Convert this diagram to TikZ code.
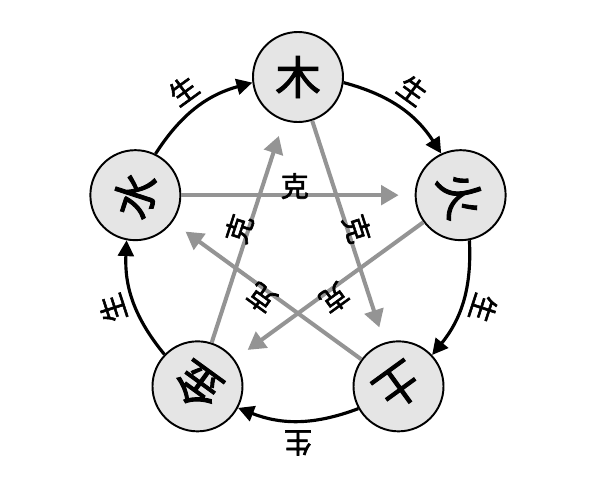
\documentclass[tikz,border=0pt]{standalone}
\usepackage{fontspec}
\newfontfamily\cjk[FakeBold=2]{Noto Sans CJK SC}
\usetikzlibrary{arrows.meta}

\begin{document}
\begin{tikzpicture}[
    element/.style={circle,draw,line width=1.1pt,fill=black!10,minimum size=1.8cm,inner sep=0pt,font=\cjk\fontsize{26}{26}\selectfont},
    sheng/.style={-{Triangle[length=9pt,width=9pt]},line width=1.8pt},
    ke/.style={-{Triangle[length=10pt,width=11pt]},line width=2.3pt,color=black!42,shorten >=0.32cm},
    tag/.style={font=\cjk\fontsize{16}{16}\selectfont,inner sep=1pt}
]
\useasboundingbox (-5.96,-4.64) rectangle (6.16,4.96);

% five elements
\node[element] (mu) at (90:3.42) {木};
\node[element] (huo) at (18:3.42) {\rotatebox[origin=c]{-72}{火}};
\node[element] (tu) at (-54:3.42) {\rotatebox[origin=c]{-144}{土}};
\node[element] (jin) at (-126:3.42) {\rotatebox[origin=c]{144}{金}};
\node[element] (shui) at (162:3.42) {\rotatebox[origin=c]{72}{水}};

% restraining star
\draw[ke] (shui) -- (huo);
\draw[ke] (mu) -- (tu);
\draw[ke] (tu) -- (shui);
\draw[ke] (huo) -- (jin);
\draw[ke] (jin) -- (mu);

% generating cycle
\draw[sheng] (shui.64.4) to[bend left=21] (mu.187.6);
\draw[sheng] (mu.-7.6) to[bend left=21] (huo.115.6);
\draw[sheng] (huo.-79.6) to[bend left=21] (tu.43.6);
\draw[sheng] (tu.-151.6) to[bend left=21] (jin.-28.4);
\draw[sheng] (jin.136.4) to[bend left=21] (shui.259.6);

% labels
\node[tag,rotate=36] (s1) at (126:3.9) {生};
\node[tag,rotate=-36] (s2) at (54:3.9) {生};
\node[tag,rotate=-108] (s3) at (-18:3.9) {生};
\node[tag,rotate=180] (s4) at (-90:3.9) {生};
\node[tag,rotate=108] (s5) at (198:3.9) {生};

\node[tag] (k1) at (93:1.24) {克};
\node[tag,rotate=-72] (k2) at (18:1.24) {克};
\node[tag,rotate=-144] (k3) at (-54:1.24) {克};
\node[tag,rotate=144] (k4) at (-126:1.24) {克};
\node[tag,rotate=72] (k5) at (162:1.24) {克};

\end{tikzpicture}
\end{document}
